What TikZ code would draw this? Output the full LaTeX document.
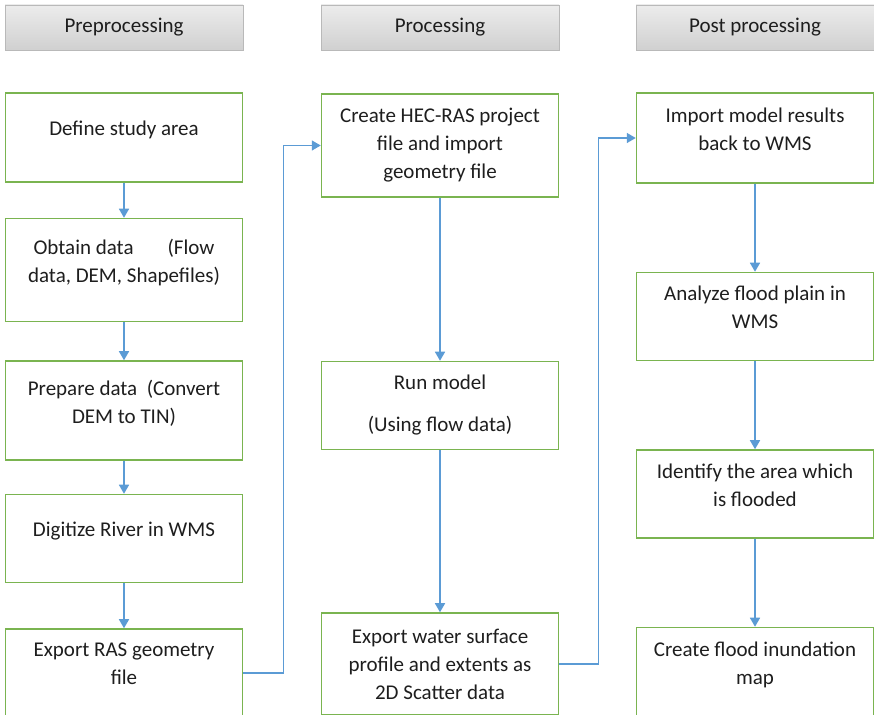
\documentclass[tikz,border=0pt]{standalone}
\usepackage{fontspec}
\setmainfont{Carlito}
\usepackage{tikz}
\usetikzlibrary{positioning,arrows.meta,shadows}
\definecolor{boxgreen}{RGB}{122,180,80}
\definecolor{flowblue}{RGB}{91,155,213}
\definecolor{headgray}{RGB}{208,208,208}
\definecolor{txt}{RGB}{30,30,30}
\tikzstyle{head}=[%
      rectangle, draw=gray!55, thin, top color=gray!15, bottom color=headgray,
      drop shadow={shadow xshift=1pt, shadow yshift=-1.5pt, opacity=0.35},
      minimum height=45pt, minimum width=238pt, text=txt,
      font=\fontsize{21}{28}\selectfont
]
\tikzstyle{stepbox}=[%
      rectangle, draw=boxgreen, line width=1.5pt, fill=white, text=txt,
      minimum width=237pt, inner sep=4pt, align=center,
      font=\fontsize{21}{28}\selectfont
]
\tikzstyle{lift}=[text depth=18pt]
\tikzstyle{flow}=[%
      draw=flowblue, line width=1.5pt, -{Triangle[width=10pt,length=9pt]}
]

\begin{document}
\begin{tikzpicture}[x=1pt,y=1pt]
\useasboundingbox (0,0) rectangle (874,714);
% column heads
\node[head](pre) at (124,686.5){Preprocessing};
\node[head](pro) at (440,686.5){Processing};
\node[head](post) at (755,686.5){Post processing};

% preprocessing
\node[stepbox, lift, minimum height=89pt](def) at (124,576.5){Define study area};
\node[stepbox, lift, minimum height=103pt, below=35pt of def](obt){Obtain data\hspace{34pt}(Flow\\data, DEM, Shapefiles)};
\node[stepbox, lift, minimum height=99pt, below=38pt of obt](prep){Prepare data~ (Convert\\DEM to TIN)};
\node[stepbox, lift, minimum height=88pt, below=33pt of prep](dig){Digitize River in WMS};
\node[stepbox, lift, minimum height=88pt, below=45pt of dig](exp){Export RAS geometry\\file};

% processing
\node[stepbox, minimum height=103pt](hec) at (440,568.5){Create HEC-RAS project\\file and import\\geometry file};
\node[stepbox, minimum height=88pt, below=163pt of hec](run){Run model\\[14pt](Using flow data)};
\node[stepbox, minimum height=102pt, below=162pt of run](wsurf){Export water surface\\profile and extents as\\2D Scatter data};

% post processing
\node[stepbox, lift, minimum height=90pt](imp) at (755,576){Import model results\\back to WMS};
\node[stepbox, lift, minimum height=88pt, below=88pt of imp](ana){Analyze flood plain in\\WMS};
\node[stepbox, lift, minimum height=88pt, below=88pt of ana](ide){Identify the area which\\is flooded};
\node[stepbox, lift, minimum height=89pt, below=88pt of ide](cre){Create flood inundation\\map};

\draw[flow](def) -- (obt);
\draw[flow](obt) -- (prep);
\draw[flow](prep) -- (dig);
\draw[flow](dig) -- (exp);
\draw[flow](exp.east) -- ++(40,0) |- (hec.west);

\draw[flow](hec) -- (run);
\draw[flow](run) -- (wsurf);
\draw[flow](wsurf.east) -- ++(39,0) |- (imp.west);

\draw[flow](imp) -- (ana);
\draw[flow](ana) -- (ide);
\draw[flow](ide) -- (cre);
\end{tikzpicture}
\end{document}
